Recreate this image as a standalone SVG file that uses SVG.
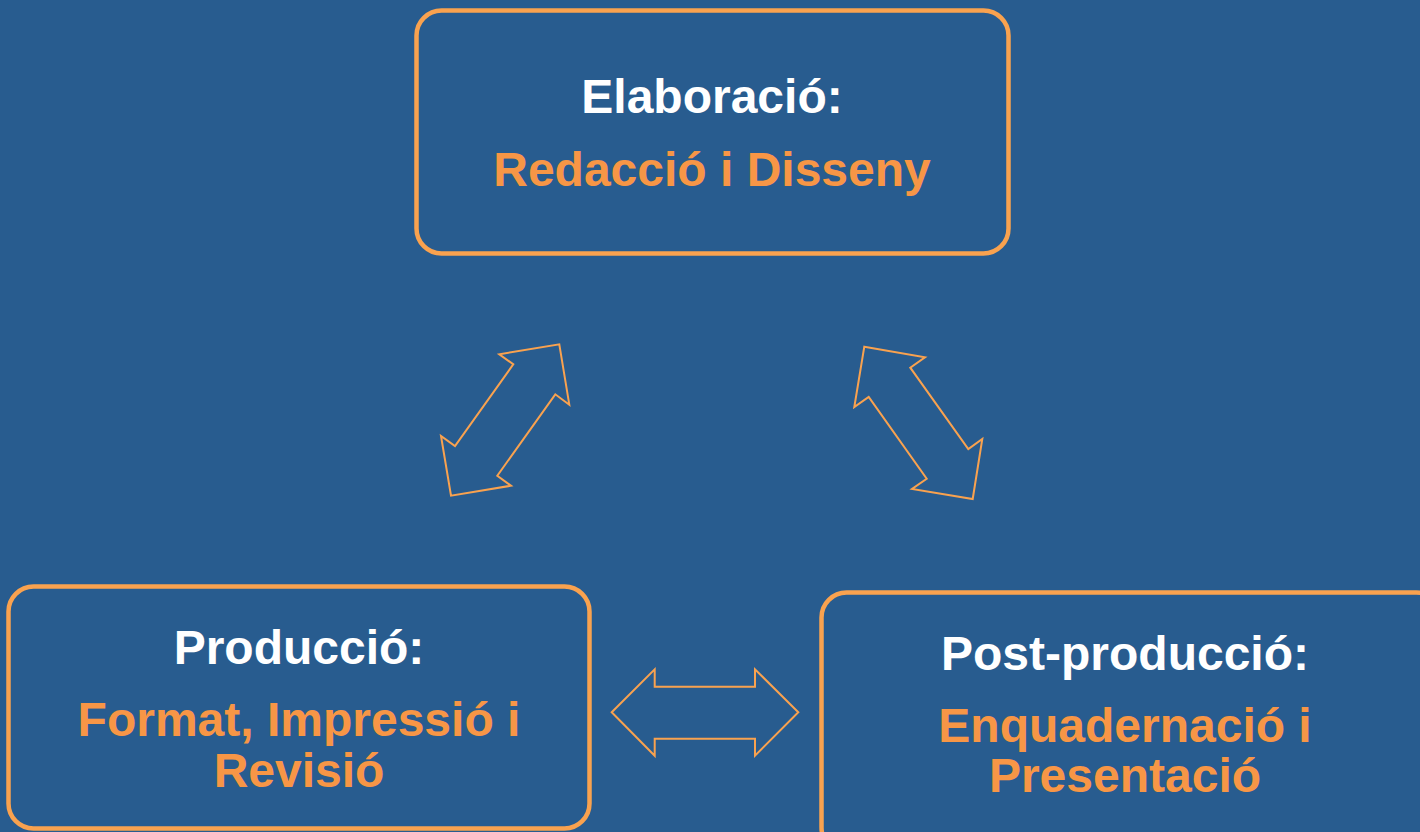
<svg xmlns="http://www.w3.org/2000/svg" width="1420" height="832" viewBox="0 0 1420 832">
<style>
.box{fill:#285C8F;stroke:#F9A24F;stroke-width:4.5}
.arr{fill:none;stroke:#F9A24F;stroke-width:2;stroke-linejoin:miter}
text{font-family:"Liberation Sans",Arial,sans-serif;font-weight:bold;font-size:48px;text-anchor:middle}
.w{fill:#FFFFFF}
.o{fill:#F79646}
</style>
<rect x="0" y="0" width="1420" height="832" fill="#285C8F"/>
<g id="connectors">
<polygon class="arr" points="559.3,344.3 569.3,404.7 555.3,394.3 497.3,475.7 511,485.7 451,495.7 441,436 455,446 513.3,364.3 499.3,354.3"/>
<polygon class="arr" points="864.3,346.7 925,357.3 910.3,367.7 968.3,449 982.3,439 972.7,499 912,489 926.7,478.7 868.7,397 854.3,407"/>
<polygon class="arr" points="611.7,712.3 654.7,669.3 654.7,686.7 755,686.7 755,669.3 798.3,712.3 755,755.7 755,738.7 654.7,738.7 654.7,755.7"/>
</g>
<g id="elaboracio">
<rect class="box" x="416.5" y="10.5" width="592" height="243" rx="25"/>
<text class="w" x="712" y="113">Elaboració:</text>
<text class="o" x="712" y="186">Redacció i Disseny</text>
</g>
<g id="produccio">
<rect class="box" x="8.5" y="586.5" width="581" height="242" rx="25"/>
<text class="w" x="299" y="664">Producció:</text>
<text class="o" x="299" y="736">Format, Impressió i</text>
<text class="o" x="299" y="787">Revisió</text>
</g>
<g id="postproduccio">
<rect class="box" x="821.5" y="592.5" width="620" height="260" rx="25"/>
<text class="w" x="1125" y="670">Post-producció:</text>
<text class="o" x="1125" y="742">Enquadernació i</text>
<text class="o" x="1125" y="792">Presentació</text>
</g>
</svg>
